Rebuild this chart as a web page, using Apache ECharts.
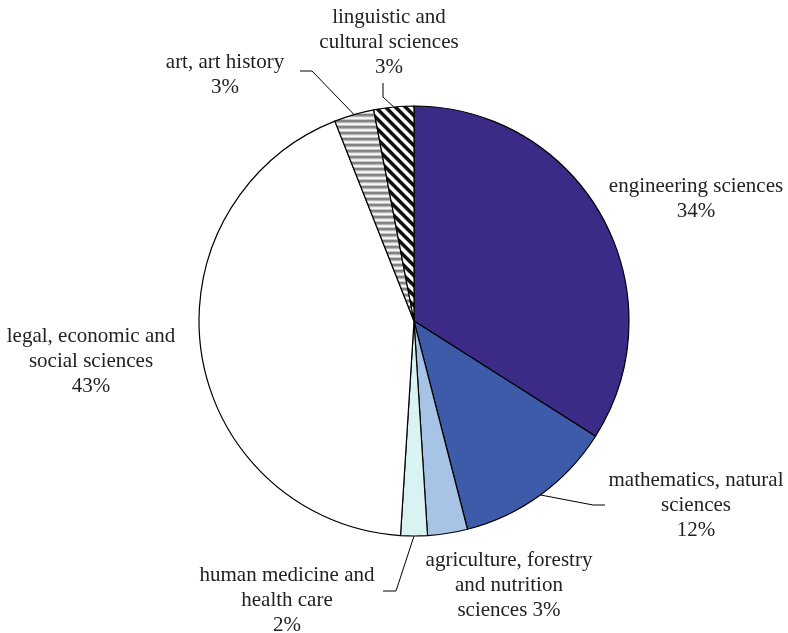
<!DOCTYPE html>
<html>
<head>
<meta charset="utf-8">
<script src="https://cdn.jsdelivr.net/npm/echarts@6/dist/echarts.min.js"></script>
<style>
  html, body { margin: 0; padding: 0; background: #ffffff; }
  #chart { width: 788px; height: 633px; }
</style>
</head>
<body>
<div id="chart"></div>
<script>
// Distribution of fields of study (share in %)
const categories = [
  'engineering sciences',
  'mathematics, natural sciences',
  'agriculture, forestry and nutrition sciences',
  'human medicine and health care',
  'legal, economic and social sciences',
  'art, art history',
  'linguistic and cultural sciences'
];
const shares = [34, 12, 3, 2, 43, 3, 3];

// How each category name is broken over lines in its label
const labelNameLines = [
  ['engineering sciences'],
  ['mathematics, natural', 'sciences'],
  ['agriculture, forestry', 'and nutrition', 'sciences'],
  ['human medicine and', 'health care'],
  ['legal, economic and', 'social sciences'],
  ['art, art history'],
  ['linguistic and', 'cultural sciences']
];
// Whether the percentage shares the last line of the name
const valueOnSameLine = [false, false, true, false, false, false, false];

// Label block centres (px)
const labelCentres = [
  [696, 199], [696, 505], [509, 585], [287, 600],
  [91, 361], [225, 75], [389, 42]
];
// Leader line bend and end points (px); null = no leader line
const leaderBends = [
  null,
  [[593, 505], [605, 505]],
  null,
  [[396, 591], [383, 591]],
  null,
  [[312, 71], [300, 71]],
  [[383, 97], [383, 83]]
];

function stripePattern(w, h, shade) {
  const c = document.createElement('canvas');
  c.width = w; c.height = h;
  const ctx = c.getContext('2d');
  const img = ctx.createImageData(w, h);
  for (let y = 0; y < h; y++) {
    for (let x = 0; x < w; x++) {
      const v = shade(x, y);
      const k = (y * w + x) * 4;
      img.data[k] = img.data[k + 1] = img.data[k + 2] = v;
      img.data[k + 3] = 255;
    }
  }
  ctx.putImageData(img, 0, 0);
  return { image: c, repeat: 'repeat' };
}

// Horizontal grey bands
const greyBands = [0x80, 0x88, 0xb4, 0xec, 0xf6, 0xc8];
const artFill = stripePattern(6, 6, (x, y) => greyBands[y]);

// Diagonal black/white stripes, falling to the right
const diagBands = [0x10, 0x10, 0x10, 0x10, 0x70, 0xf0, 0xff, 0xff, 0xff, 0xa0];
const lingFill = stripePattern(10, 10, (x, y) => diagBands[((y - x) % 10 + 10) % 10]);

const fills = ['#3b2a86', '#3e5ba9', '#a7c4e6', '#d9f3f2', '#ffffff', artFill, lingFill];

const pieData = categories.map((name, i) => ({
  name: name,
  value: shares[i],
  itemStyle: { color: fills[i] },
  labelLine: { show: leaderBends[i] !== null }
}));

const chart = echarts.init(document.getElementById('chart'), null, { renderer: 'canvas' });

chart.setOption({
  backgroundColor: '#ffffff',
  animation: false,
  series: [{
    type: 'pie',
    center: [414, 321],
    radius: 215,
    startAngle: 90,
    clockwise: true,
    avoidLabelOverlap: false,
    silent: true,
    data: pieData,
    itemStyle: { borderColor: '#000000', borderWidth: 1.2 },
    label: {
      show: true,
      position: 'outside',
      color: '#222222',
      fontFamily: '"Liberation Serif", "Times New Roman", serif',
      fontSize: 21,
      lineHeight: 25,
      align: 'center',
      formatter: (p) => {
        const i = p.dataIndex;
        return labelNameLines[i].join('\n') + (valueOnSameLine[i] ? ' ' : '\n') + p.value + '%';
      }
    },
    labelLine: {
      length: 10,
      length2: 10,
      lineStyle: { color: '#000000', width: 1 }
    },
    labelLayout: (p) => {
      const i = p.dataIndex;
      const out = {
        x: labelCentres[i][0],
        y: labelCentres[i][1],
        align: 'center',
        verticalAlign: 'middle'
      };
      const bend = leaderBends[i];
      if (bend && p.labelLinePoints) {
        out.labelLinePoints = [p.labelLinePoints[0], bend[0], bend[1]];
      }
      return out;
    }
  }]
});
</script>
</body>
</html>
